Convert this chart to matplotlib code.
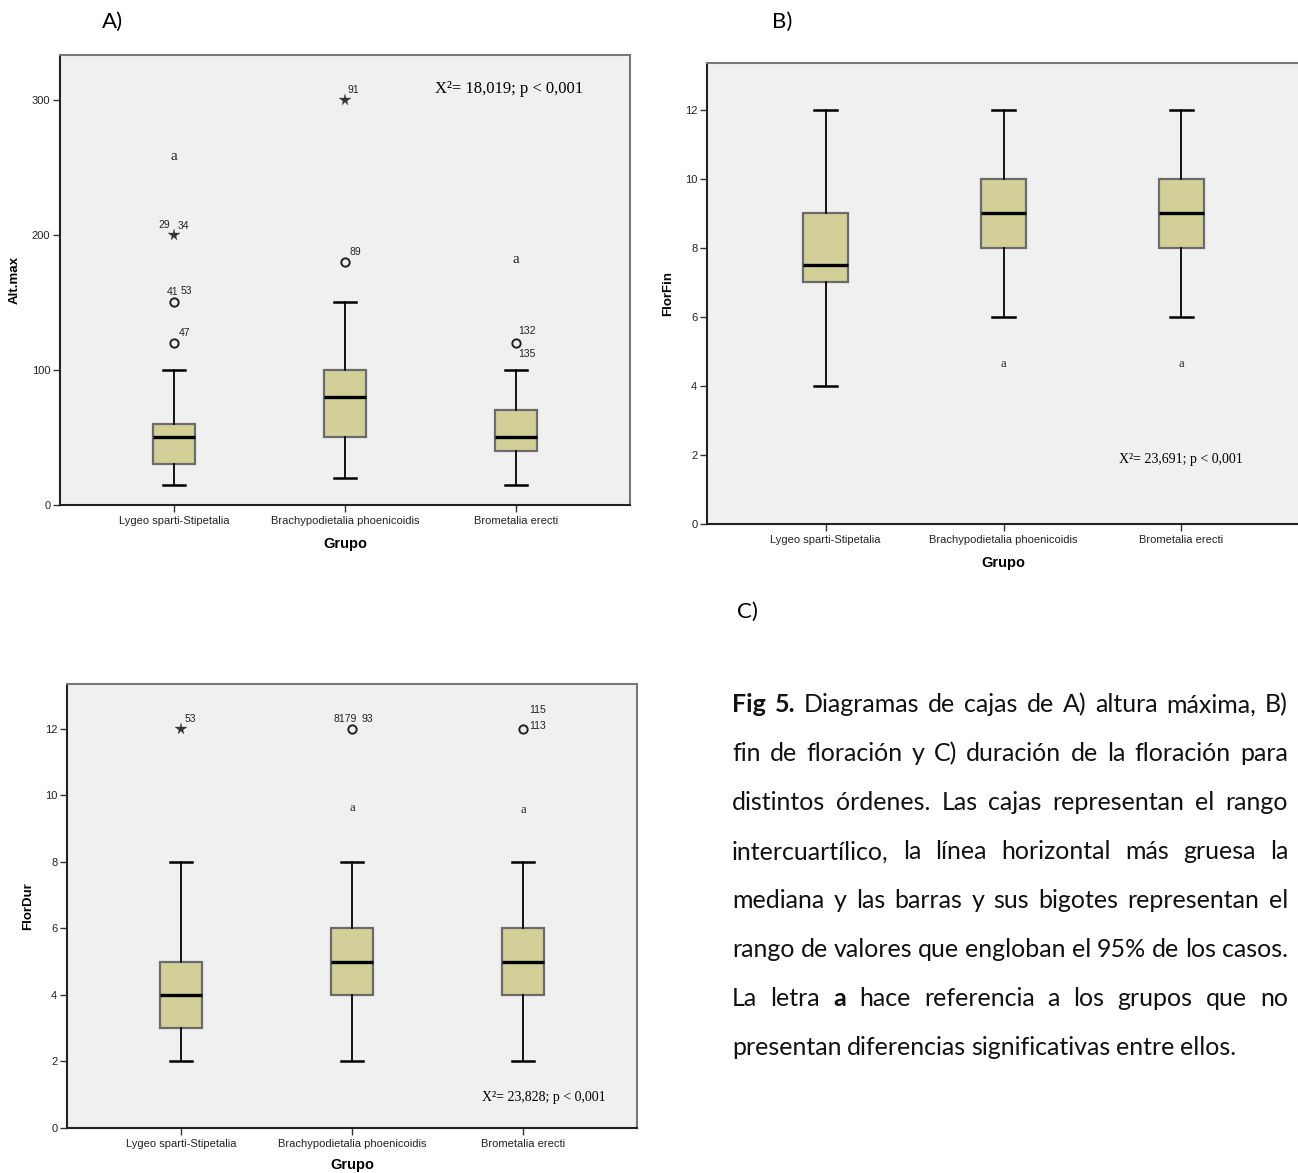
import numpy as np
import matplotlib
matplotlib.use("Agg")
import matplotlib.pyplot as plt

# ---- data ----
groups = ["Lygeo sparti-Stipetalia", "Brachypodietalia phoenicoidis", "Brometalia erecti"]

# A) Alt.max
alt_whislo = [15, 20, 15]
alt_q1 = [30, 50, 40]
alt_med = [50, 80, 50]
alt_q3 = [60, 100, 70]
alt_whishi = [100, 150, 100]
alt_circles = [(1, 120), (1, 150), (2, 180), (3, 120)]
alt_stars = [(1, 200), (2, 300)]
alt_ids = [(1, 200, "29", -16, 10), (1, 200, "34", 4, 9), (1, 150, "41", -7, 10),
           (1, 150, "53", 7, 11), (1, 120, "47", 5, 10), (2, 300, "91", 3, 10),
           (2, 180, "89", 4, 10), (3, 120, "132", 2, 12), (3, 120, "135", 2, -11)]
alt_letters = [(1, 258), (3, 182)]
alt_stat = "X\u00b2= 18,019; p < 0,001"

# B) FlorFin
fin_whislo = [4, 6, 6]
fin_q1 = [7, 8, 8]
fin_med = [7.5, 9, 9]
fin_q3 = [9, 10, 10]
fin_whishi = [12, 12, 12]
fin_letters = [(2, 4.64), (3, 4.64)]
fin_stat = "X\u00b2= 23,691; p < 0,001"

# C) FlorDur
dur_whislo = [2, 2, 2]
dur_q1 = [3, 4, 4]
dur_med = [4, 5, 5]
dur_q3 = [5, 6, 6]
dur_whishi = [8, 8, 8]
dur_circles = [(2, 12), (3, 12)]
dur_stars = [(1, 12)]
dur_ids = [(1, 12, "53", 4, 10), (2, 12, "8179", -18, 10), (2, 12, "93", 10, 10),
           (3, 12, "113", 6, 3), (3, 12, "115", 6, 19)]
dur_letters = [(2, 9.62), (3, 9.56)]
dur_stat = "X\u00b2= 23,828; p < 0,001"

caption_lines = [
    "**Fig **5.** Diagramas de cajas de A) altura máxima, B)",
    "fin de floración y C) duración de la floración para",
    "distintos órdenes. Las cajas representan el rango",
    "intercuartílico, la línea horizontal más gruesa la",
    "mediana y las barras y sus bigotes representan el",
    "rango de valores que engloban el 95% de los casos.",
    "La letra **a hace referencia a los grupos que no",
    "presentan diferencias significativas entre ellos.",
]

W, H = 1298, 1173
fig = plt.figure(figsize=(W / 100, H / 100), dpi=100)
fig.patch.set_facecolor("white")

BG = "#f0f0f0"
FILL = "#d3cf98"
SANS = "Liberation Sans"
SERIF = "Liberation Serif"


def make_axes(left, right, top, bottom):
    return fig.add_axes([left / W, 1 - bottom / H, (right - left) / W, (bottom - top) / H])


def boxpanel(ax, whislo, q1, med, q3, whishi, ylim, yticks, ylabel, xlpad=8):
    stats = []
    for i in range(len(groups)):
        stats.append(dict(whislo=whislo[i], q1=q1[i], med=med[i], q3=q3[i],
                          whishi=whishi[i], fliers=[]))
    ax.bxp(stats, positions=[1, 2, 3], widths=0.25, patch_artist=True, showfliers=False,
           boxprops=dict(facecolor=FILL, edgecolor="#6b6b6b", linewidth=1.6),
           medianprops=dict(color="black", linewidth=2.4),
           whiskerprops=dict(color="black", linewidth=1.3),
           capprops=dict(color="black", linewidth=1.8), capwidths=0.13)
    ax.set_facecolor(BG)
    ax.set_xlim(1 - 0.667, 3 + 0.667)
    ax.set_ylim(*ylim)
    ax.set_yticks(yticks)
    ax.set_xticks([1, 2, 3])
    ax.set_xticklabels(groups, fontsize=8, family=SANS, color="#222222")
    for lab in ax.get_yticklabels():
        lab.set_fontsize(8)
        lab.set_family(SANS)
        lab.set_color("#222222")
    ax.tick_params(axis="both", length=5, width=1, color="#333333", pad=2)
    ax.tick_params(axis="x", pad=3)
    ax.spines["left"].set_color("#222222")
    ax.spines["bottom"].set_color("#222222")
    ax.spines["left"].set_linewidth(1.5)
    ax.spines["bottom"].set_linewidth(1.5)
    ax.spines["top"].set_color("#777777")
    ax.spines["right"].set_color("#777777")
    ax.spines["top"].set_linewidth(1.5)
    ax.spines["right"].set_linewidth(1.5)
    ax.set_ylabel(ylabel, fontsize=9.5, fontweight="bold", family=SANS, labelpad=8)
    ax.set_xlabel("Grupo", fontsize=10.5, fontweight="bold", family=SANS, labelpad=xlpad)


def outliers(ax, circles, stars, ids):
    if circles:
        ax.plot([c[0] for c in circles], [c[1] for c in circles], "o", ms=6,
                mfc="none", mec="#222222", mew=1.4)
    if stars:
        ax.plot([s[0] for s in stars], [s[1] for s in stars], "*", ms=8.5,
                color="#333333", mew=0.2)
    for x, y, t, dx, dy in ids:
        ax.annotate(t, (x, y), xytext=(dx, dy), textcoords="offset pixels",
                    fontsize=7.5, family=SANS, color="#222222", va="center", ha="left")


def letters(ax, pts, size=10):
    for x, y in pts:
        ax.text(x, y, "a", fontsize=size, family=SERIF, ha="center", va="center",
                color="#222222")


# ---- A ----
axA = make_axes(60, 630, 55, 505)
boxpanel(axA, alt_whislo, alt_q1, alt_med, alt_q3, alt_whishi, (0, 333),
         [0, 100, 200, 300], "Alt.max")
outliers(axA, alt_circles, alt_stars, alt_ids)
letters(axA, alt_letters, 11)
axA.text(2.96, 308, alt_stat, fontsize=12, family=SERIF, ha="center", va="center")

# ---- B ----
axB = make_axes(707, 1300, 63, 524)
boxpanel(axB, fin_whislo, fin_q1, fin_med, fin_q3, fin_whishi, (0, 13.36),
         [0, 2, 4, 6, 8, 10, 12], "FlorFin")
axB.spines["right"].set_visible(False)
letters(axB, fin_letters, 9)
axB.text(3.0, 1.86, fin_stat, fontsize=10, family=SERIF, ha="center", va="center")

# ---- C ----
axC = make_axes(67, 637, 684, 1128)
boxpanel(axC, dur_whislo, dur_q1, dur_med, dur_q3, dur_whishi, (0, 13.35),
         [0, 2, 4, 6, 8, 10, 12], "FlorDur", xlpad=6.5)
outliers(axC, dur_circles, dur_stars, dur_ids)
letters(axC, dur_letters, 9)
axC.text(3.12, 0.93, dur_stat, fontsize=10, family=SERIF, ha="center", va="center")

# panel tags
fig.text(113 / W, 1 - 22 / H, "A)", fontsize=16, family="Lato", ha="center", va="center")
fig.text(782 / W, 1 - 22 / H, "B)", fontsize=16, family="Lato", ha="center", va="center")
fig.text(747 / W, 1 - 612 / H, "C)", fontsize=16, family="Lato", ha="center", va="center")

# ---- caption, justified ----
renderer = fig.canvas.get_renderer()
x0, x1 = 732, 1288
cap_size = 18
y = 705
for li, line in enumerate(caption_lines):
    words = line.split(" ")
    arts = []
    for w in words:
        bold = w.startswith("**")
        w = w.replace("**", "")
        t = fig.text(0, 1 - y / H, w, fontsize=cap_size, family="Lato",
                     fontweight="bold" if bold else "normal", va="center", ha="left",
                     color="#111111")
        arts.append(t)
    widths = [a.get_window_extent(renderer).width for a in arts]
    if li < len(caption_lines) - 1:
        gap = (x1 - x0 - sum(widths)) / (len(arts) - 1)
    else:
        gap = renderer.points_to_pixels(cap_size) * 0.22
    x = x0
    for a, w in zip(arts, widths):
        a.set_x(x / W)
        x += w + gap
    y += 48.9

fig.savefig("out.png", dpi=100)
